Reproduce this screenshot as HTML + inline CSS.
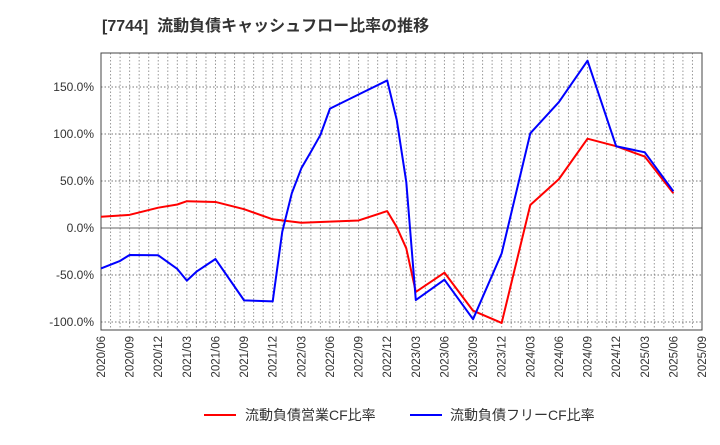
<!DOCTYPE html>
<html><head><meta charset="utf-8"><style>
body{margin:0;background:#fff;width:720px;height:440px;overflow:hidden;font-family:"Liberation Sans","Noto Sans CJK JP",sans-serif}
</style></head><body>
<svg id="chart" width="720" height="440" xmlns="http://www.w3.org/2000/svg">
<text x="102" y="31" font-size="16" font-weight="bold" fill="#333" font-family="Liberation Sans, Noto Sans CJK JP, sans-serif">[7744]&#160; 流動負債キャッシュフロー比率の推移</text>
<g id="grid"></g><g id="axes"></g><g id="series"></g>
<g font-size="14" fill="#333">
<line x1="204" y1="415" x2="236" y2="415" stroke="#f00" stroke-width="2"/>
<text x="245" y="420">流動負債営業CF比率</text>
<line x1="410" y1="415" x2="442" y2="415" stroke="#00f" stroke-width="2"/>
<text x="450" y="420">流動負債フリーCF比率</text>
</g>
</svg>
<script>
const xLabels=["2020/06","2020/09","2020/12","2021/03","2021/06","2021/09","2021/12","2022/03","2022/06","2022/09","2022/12","2023/03","2023/06","2023/09","2023/12","2024/03","2024/06","2024/09","2024/12","2025/03","2025/06","2025/09"];
const yTicks=[-100,-50,0,50,100,150];
const redMonths=[0,3,6,8,9,12,15,18,21,27,30,31,32,33,36,39,42,45,48,51,54,57,60];
const redValues=[12,14,21.6,25,28.5,27.7,20,9.3,5.6,8,18,1,-21.6,-68,-47.5,-88,-101,24.5,52,95,87,76,37];
const blueMonths=[0,2,3,6,8,9,10,12,15,18,19,20,21,22,23,24,27,30,31,32,33,36,39,42,45,48,51,54,57,60];
const blueValues=[-43,-35,-28.7,-29,-43.6,-56,-46.5,-33,-77,-78,-4,37,63.5,81,99,127,142,157,115,49,-76.6,-55,-97,-27,100.7,134,178,87,80.5,39];
const L=101,R=702,T=53,B=330,NM=63;
const xs=m=>L+m*(R-L)/NM;
const ys=v=>228-v*0.94;
const NS="http://www.w3.org/2000/svg";
function mk(tag,attrs,parent){const e=document.createElementNS(NS,tag);for(const k in attrs)e.setAttribute(k,attrs[k]);document.getElementById(parent).appendChild(e);return e;}
for(let m=1;m<NM;m++){const l=mk('line',{x1:xs(m),x2:xs(m),y1:T,y2:B,stroke:'#999','stroke-dasharray':'1.5,2','stroke-width':1},'grid');

}
yTicks.forEach(v=>{const y=ys(v);const l=mk('line',{x1:L,x2:R,y1:y,y2:y,stroke:v===0?'#666':'#777','stroke-dasharray':v===0?'':'1.5,2','stroke-width':1},'grid');


const t=mk('text',{x:L-7,y:y+4,'text-anchor':'end','font-size':12,fill:'#333'},'axes');t.textContent=v.toFixed(1)+'%';

});
xLabels.forEach((s,i)=>{const x=xs(i*3);const t=mk('text',{x:0,y:0,transform:`translate(${x+4},${B+6}) rotate(-90)`,'text-anchor':'end','font-size':11.5,fill:'#333'},'axes');t.textContent=s;

});
const fr=mk('rect',{x:L,y:T,width:R-L,height:B-T,fill:'none',stroke:'#444','stroke-width':1},'axes');


function line(ms,vs,c,name){const p=mk('polyline',{points:ms.map((m,i)=>xs(m)+','+ys(vs[i])).join(' '),fill:'none',stroke:c,'stroke-width':2,'stroke-linejoin':'round'},'series');

}
line(redMonths,redValues,'#f00','operating-cf-ratio-line');
line(blueMonths,blueValues,'#00f','free-cf-ratio-line');
</script>
</body></html>
